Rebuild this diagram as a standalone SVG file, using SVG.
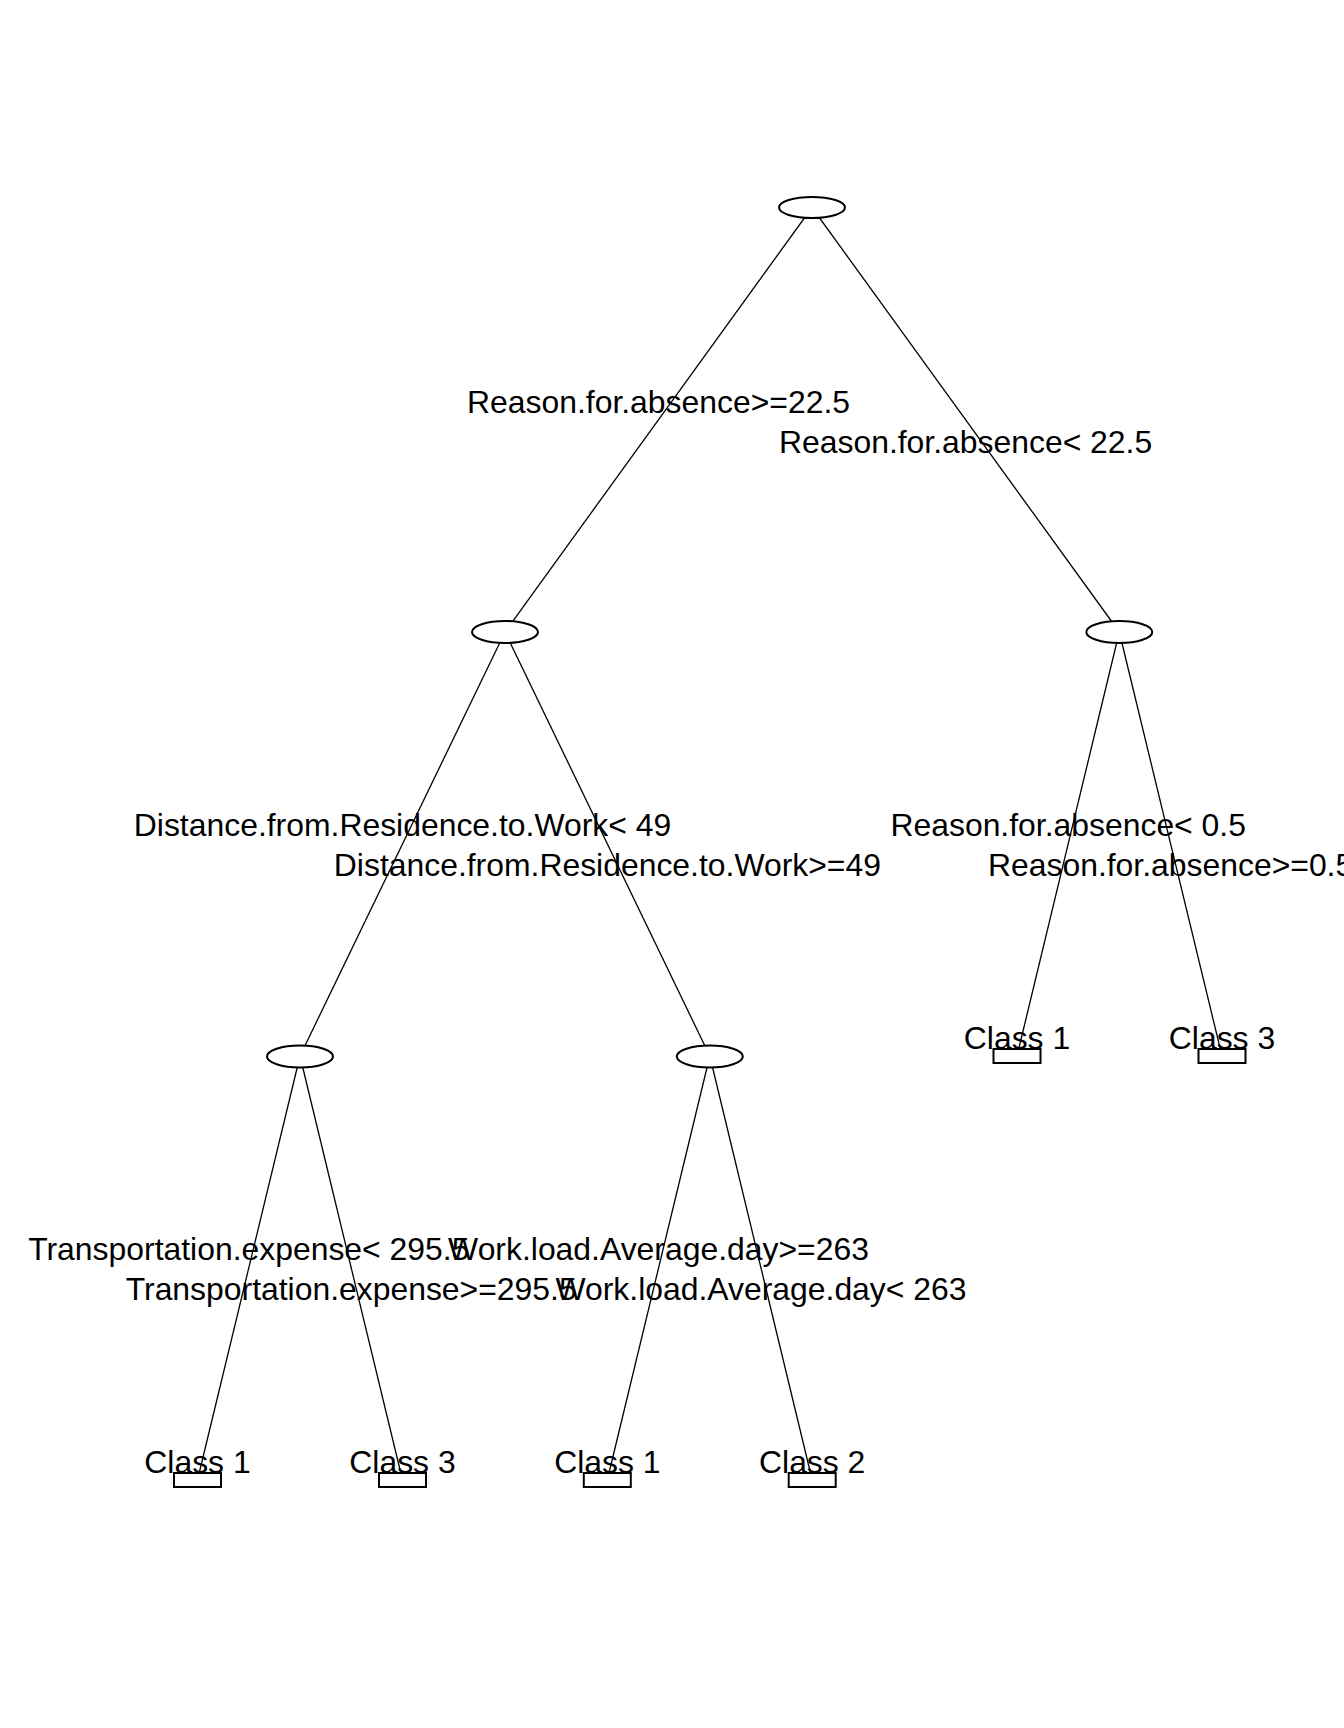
<svg xmlns="http://www.w3.org/2000/svg" width="1344" height="1728" viewBox="0 0 1344 1728">
<style>
.e{stroke:#000;stroke-width:1.3;fill:none}
.n{fill:#fff;stroke:#000;stroke-width:2}
.t{font-family:"Liberation Sans",Arial,sans-serif;font-size:31.9px;fill:#000;text-anchor:middle}
</style>
<rect width="1344" height="1728" fill="#fff"/>
<g id="connectors">
<line class="e" x1="812" y1="207.5" x2="505" y2="632"/>
<line class="e" x1="812" y1="207.5" x2="1119.3" y2="632"/>
<line class="e" x1="505" y1="632" x2="300" y2="1056"/>
<line class="e" x1="505" y1="632" x2="709.8" y2="1056"/>
<line class="e" x1="1119.3" y1="632" x2="1017" y2="1056"/>
<line class="e" x1="1119.3" y1="632" x2="1222" y2="1056"/>
<line class="e" x1="300" y1="1056" x2="197.5" y2="1480"/>
<line class="e" x1="300" y1="1056" x2="402.5" y2="1480"/>
<line class="e" x1="709.8" y1="1056" x2="607.3" y2="1480"/>
<line class="e" x1="709.8" y1="1056" x2="812.2" y2="1480"/>
</g>
<g id="node-root"><ellipse class="n" cx="812" cy="207.5" rx="33" ry="10.5"/></g>
<g id="node-2"><ellipse class="n" cx="505" cy="632" rx="33" ry="11"/></g>
<g id="node-3"><ellipse class="n" cx="1119.3" cy="632" rx="33" ry="11"/></g>
<g id="node-4"><ellipse class="n" cx="300" cy="1056.5" rx="33" ry="11"/></g>
<g id="node-5"><ellipse class="n" cx="709.8" cy="1056.5" rx="33" ry="11"/></g>
<g id="leaf-6"><rect class="n" x="993.5" y="1049" width="47" height="14"/><text class="t" x="1017" y="1049">Class 1</text></g>
<g id="leaf-7"><rect class="n" x="1198.5" y="1049" width="47" height="14"/><text class="t" x="1222" y="1049">Class 3</text></g>
<g id="leaf-8"><rect class="n" x="174" y="1473" width="47" height="14"/><text class="t" x="197.5" y="1473">Class 1</text></g>
<g id="leaf-9"><rect class="n" x="379" y="1473" width="47" height="14"/><text class="t" x="402.5" y="1473">Class 3</text></g>
<g id="leaf-10"><rect class="n" x="583.8" y="1473" width="47" height="14"/><text class="t" x="607.3" y="1473">Class 1</text></g>
<g id="leaf-11"><rect class="n" x="788.7" y="1473" width="47" height="14"/><text class="t" x="812.2" y="1473">Class 2</text></g>
<g id="labels">
<text class="t" x="658.5" y="413">Reason.for.absence&gt;=22.5</text>
<text class="t" x="965.6" y="453">Reason.for.absence&lt; 22.5</text>
<text class="t" x="402.5" y="836">Distance.from.Residence.to.Work&lt; 49</text>
<text class="t" x="607.4" y="876">Distance.from.Residence.to.Work&gt;=49</text>
<text class="t" x="1068.2" y="836">Reason.for.absence&lt; 0.5</text>
<text class="t" x="1170.6" y="876">Reason.for.absence&gt;=0.5</text>
<text class="t" x="248.8" y="1260">Transportation.expense&lt; 295.5</text>
<text class="t" x="351.2" y="1300">Transportation.expense&gt;=295.5</text>
<text class="t" x="658.5" y="1260">Work.load.Average.day&gt;=263</text>
<text class="t" x="761" y="1300">Work.load.Average.day&lt; 263</text>
</g>
</svg>
